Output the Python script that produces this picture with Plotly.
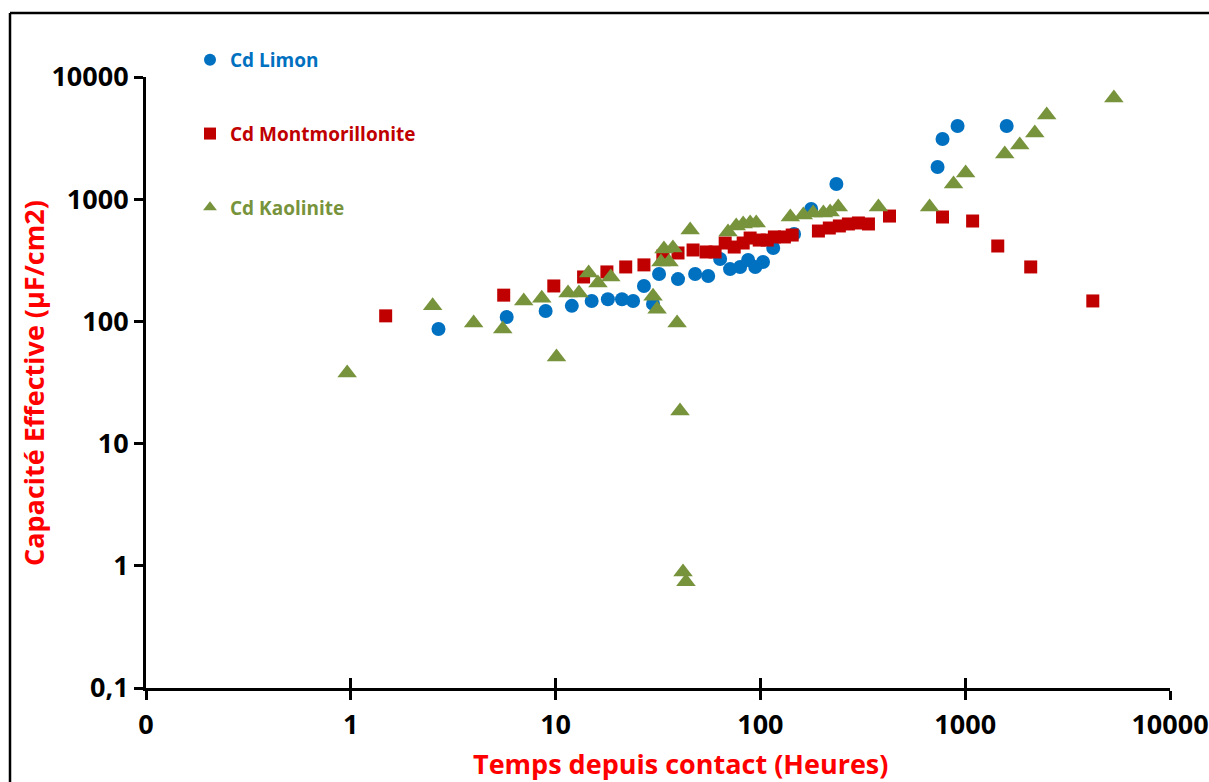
import plotly.graph_objects as go

# ---- data ----
limon_x = [2.68, 5.77, 8.94, 12.0, 15.0, 18.0, 21.1, 23.9, 27.0, 29.9, 32.0, 39.6, 48.0, 55.6,
           63.6, 71.1, 79.6, 87.1, 94.4, 103, 115.5, 146, 177, 235, 733, 775, 918, 1594]
limon_y = [86.7, 108.6, 121.7, 134, 147, 152, 152, 147, 195, 139, 244, 222, 244, 235,
           324, 268, 279, 318, 279, 306, 399, 519, 832, 1331, 1835, 3110, 3970, 3970]

montmo_x = [1.48, 5.58, 9.80, 13.7, 17.8, 22.0, 27.0, 33.4, 39.6, 46.9, 54.3, 60.1, 67.3, 74.5,
            82.4, 89.1, 98.7, 108, 117, 131, 143, 192, 217, 243, 269, 301, 337, 427, 775, 1087,
            1442, 2089, 4198]
montmo_y = [111, 164, 195, 231, 254, 279, 290, 343, 363, 384, 370, 370, 438, 406,
            438, 481, 463, 463, 491, 491, 509, 549, 581, 604, 627, 639, 627, 728, 715, 663,
            414, 279, 147]

kaol_x = [0.96, 2.51, 3.98, 5.52, 6.99, 8.56, 10.1, 11.5, 13.0, 14.5, 16.1, 18.6, 29.9, 31.3,
          32.7, 35.8, 33.8, 37.4, 39.2, 40.5, 41.9, 43.3, 45.4, 69.5, 76.2, 82.4, 89.1, 95.4,
          140, 162, 181, 203, 219, 240, 377, 670, 877, 1005, 1560, 1847, 2187, 2500, 5321]
kaol_y = [37.8, 134, 97, 86.7, 147, 155, 51.1, 171, 171, 249, 206, 231, 161, 126,
          306, 306, 391, 399, 97, 18.5, 0.89, 0.74, 560, 539, 604, 627, 639, 639,
          715, 742, 771, 771, 785, 863, 863, 863, 1331, 1637, 2344, 2779, 3483, 4887, 6730]

tick_vals = [0.1, 1, 10, 100, 1000, 10000]
x_tick_text = ["0", "1", "10", "100", "1000", "10000"]
y_tick_text = ["0,1", "1", "10", "100", "1000", "10000"]

series_names = ["Cd Limon", "Cd Montmorillonite", "Cd Kaolinite"]
colors = ["#0070C0", "#C00000", "#77933C"]

FONT = "Open Sans"
W, H = 1209, 782
L, R, T, B = 146, 39, 77, 94
PW, PH = W - L - R, H - T - B

fig = go.Figure()
symbols = ["circle", "square", "triangle-up"]
sizes = [14, 13, 17]
for name, xs, ys, col, sym, sz in zip(series_names,
                                      [limon_x, montmo_x, kaol_x],
                                      [limon_y, montmo_y, kaol_y],
                                      colors, symbols, sizes):
    fig.add_trace(go.Scatter(
        x=xs, y=ys, mode="markers", legendgroup=name,
        name=f"<span style='color:{col}'>{name}</span>",
        marker=dict(symbol=sym, size=sz, color=col, line=dict(width=0)),
    ))

axis_common = dict(
    type="log", range=[-1, 4], tickvals=tick_vals, automargin=False,
    showgrid=False, zeroline=False, showline=True, linecolor="black", linewidth=3,
    ticks="outside", ticklen=9, tickwidth=3, tickcolor="black",
    tickfont=dict(family=FONT, size=27, color="black", weight="bold"),
)

fig.update_layout(
    width=W, height=H,
    margin=dict(l=L, r=R, t=T, b=B, autoexpand=False),
    paper_bgcolor="white", plot_bgcolor="white",
    xaxis=dict(**axis_common, ticktext=x_tick_text, ticklabelstandoff=2),
    yaxis=dict(**axis_common, ticktext=y_tick_text, ticklabelstandoff=0),
    xaxis2=dict(type="log", range=[-1, 4], overlaying="x", anchor="y", side="bottom",
                tickvals=tick_vals, showticklabels=False, ticks="inside", ticklen=10,
                tickwidth=3, tickcolor="black", showgrid=False, zeroline=False, showline=False,
                automargin=False),
    showlegend=True,
    legend=dict(x=190 / W, y=1 - 41 / H, xref="container", yref="container",
                xanchor="left", yanchor="top",
                font=dict(family=FONT, size=19, weight="bold"),
                tracegroupgap=46, bgcolor="rgba(0,0,0,0)", itemsizing="constant"),
)

# dummy trace to activate xaxis2 (overlay tick marks crossing the axis)
fig.add_trace(go.Scatter(x=[1], y=[1], xaxis="x2", mode="markers",
                         marker=dict(opacity=0), showlegend=False, hoverinfo="skip"))

fig.add_annotation(text="Temps depuis contact (Heures)", xref="paper", yref="paper",
                   x=(680 - L) / PW, y=-(763 - 688) / PH, xanchor="center", yanchor="middle",
                   showarrow=False,
                   font=dict(family=FONT, size=27, color="#FF0000", weight="bold"))
fig.add_annotation(text="Capacité Effective (µF/cm2)", xref="paper", yref="paper",
                   x=(33 - L) / PW, y=(688 - 383) / PH, xanchor="center", yanchor="middle",
                   textangle=-90, showarrow=False,
                   font=dict(family=FONT, size=27, color="#FF0000", weight="bold"))

# outer chart frame (left and top edges are visible in the crop)
fx0 = (10 - L) / PW
fy1 = 1 + (T - 13) / PH
fig.add_shape(type="line", xref="paper", yref="paper", x0=fx0, x1=fx0, y0=-0.3, y1=fy1,
              line=dict(color="black", width=2.5))
fig.add_shape(type="line", xref="paper", yref="paper", x0=fx0, x1=1.2, y0=fy1, y1=fy1,
              line=dict(color="black", width=2.5))

fig.write_html("out.html", config={"displayModeBar": False},
               post_script="document.body.style.margin='0';document.body.style.overflow='hidden';")
